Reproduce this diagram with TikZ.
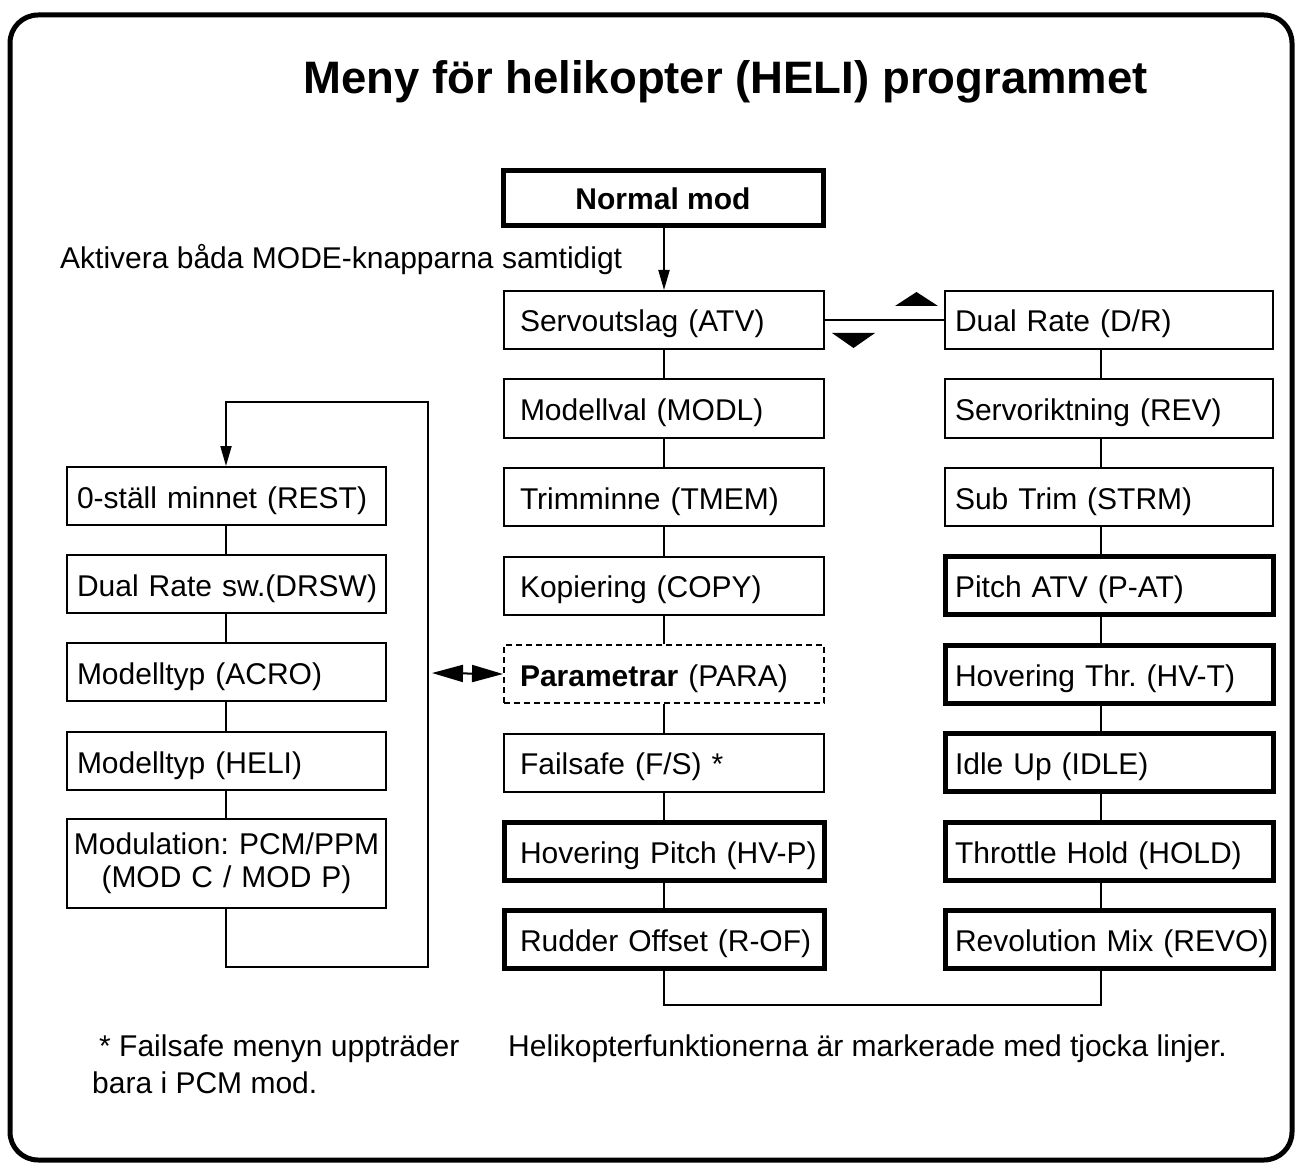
\documentclass[tikz,border=0pt]{standalone}
\usepackage{fontspec}
\setmainfont{Liberation Sans}
\usetikzlibrary{arrows.meta}
\frenchspacing
\begin{document}
\begin{tikzpicture}[x=1pt,y=-1pt,
  every node/.style={font=\fontsize{30}{34}\selectfont},
  box/.style={draw, line width=2pt, minimum height=58pt, align=left, text height=25pt, text depth=1pt, inner ysep=0pt},
  cbox/.style={box, text width=288pt, inner xsep=16pt},
  rbox/.style={box, text width=308pt, inner xsep=10pt},
  lbox/.style={box, text width=299pt, inner xsep=10pt},
  heavy/.style={line width=5pt},
  dotbox/.style={dash pattern=on 6pt off 4pt},
  link/.style={line width=2pt},
  arr/.style={-{Triangle[length=20pt,width=11pt]}},
  dbl/.style={{Triangle[length=31pt,width=17pt]}-{Triangle[length=31pt,width=17pt]}},
  plain/.style={anchor=base west, inner sep=0pt}]
\useasboundingbox (0,0) rectangle (1299,1166);
\draw[line width=5pt, rounded corners=28pt] (10,15) rectangle (1292,1160);

\node[anchor=base, inner sep=0pt, font=\fontsize{45.5}{50}\selectfont\bfseries] (title) at (725.5,94) {Meny för helikopter (HELI) programmet};

\node[draw, heavy, minimum width=320pt, minimum height=55pt, inner sep=0pt, text height=25pt, text depth=1pt, font=\fontsize{30}{34}\selectfont\bfseries] (normal) at (663,198) {Normal mod};
\node[plain] (akt) at (60,269) {Aktivera båda MODE-knapparna samtidigt};

% centre column
\node[cbox] (atv)  at (664,320)   {\mbox{Servoutslag (ATV)}};
\node[cbox] (modl) at (664,408.5) {\mbox{Modellval (MODL)}};
\node[cbox] (tmem) at (664,497)   {\mbox{Trimminne (TMEM)}};
\node[cbox] (copy) at (664,585.5) {\mbox{Kopiering (COPY)}};
\node[cbox, dotbox] (para) at (664,674) {\mbox{\textbf{Parametrar} (PARA)}};
\node[cbox] (fs)   at (664,762.5) {\mbox{Failsafe (F/S) *}};
\node[cbox, heavy] (hvp) at (664,851) {\mbox{Hovering Pitch (HV-P)}};
\node[cbox, heavy] (rof) at (664,939.5) {\mbox{Rudder Offset (R-OF)}};

% right column
\node[rbox] (dr)   at (1109,320)   {\mbox{Dual Rate (D/R)}};
\node[rbox] (rev)  at (1109,408.5) {\mbox{Servoriktning (REV)}};
\node[rbox] (strm) at (1109,497)   {\mbox{Sub Trim (STRM)}};
\node[rbox, heavy] (pat)  at (1109,585.5) {\mbox{Pitch ATV (P-AT)}};
\node[rbox, heavy] (hvt)  at (1109,674)   {\mbox{Hovering Thr. (HV-T)}};
\node[rbox, heavy] (idle) at (1109,762.5) {\mbox{Idle Up (IDLE)}};
\node[rbox, heavy] (hold) at (1109,851)   {\mbox{Throttle Hold (HOLD)}};
\node[rbox, heavy] (revo) at (1109,939.5) {\mbox{Revolution Mix (REVO)}};

% left column
\node[lbox] (rest) at (226.5,496) {\mbox{0-ställ minnet (REST)}};
\node[lbox] (drsw) at (226.5,584) {\mbox{Dual Rate sw.(DRSW)}};
\node[lbox] (acro) at (226.5,672) {\mbox{Modelltyp (ACRO)}};
\node[lbox] (heli) at (226.5,761) {\mbox{Modelltyp (HELI)}};
\node[draw, line width=2pt, minimum width=319pt, minimum height=89pt, text width=319pt, inner xsep=0pt, align=center, font=\fontsize{30}{33}\selectfont] (modu) at (226.5,863.5) {\mbox{Modulation: PCM/PPM}\\\mbox{(MOD C / MOD P)}};

% connector columns
\coordinate (cc) at (664,0);
\coordinate (rc) at (1101,0);
\coordinate (lc) at (226,0);
\coordinate (loopB) at (428,967);
\coordinate (loopT) at (428,402);
\coordinate (dl) at (432,673);

\draw[link, arr] (normal.south -| cc) -- (atv.north -| cc);
\foreach \a/\b in {atv/modl, modl/tmem, tmem/copy, copy/para, para/fs, fs/hvp, hvp/rof}
  \draw[link] (\a.south -| cc) -- (\b.north -| cc);
\foreach \a/\b in {dr/rev, rev/strm, strm/pat, pat/hvt, hvt/idle, idle/hold, hold/revo}
  \draw[link] (\a.south -| rc) -- (\b.north -| rc);
\foreach \a/\b in {rest/drsw, drsw/acro, acro/heli, heli/modu}
  \draw[link] (\a.south -| lc) -- (\b.north -| lc);

\draw[link] (atv.east) -- (dr.west);
\fill[shift={(dr.west)}] (-49,-14) -- (-6,-14) -- (-27.5,-28) -- cycle;
\fill[shift={(atv.east)}] (7,13) -- (50,13) -- (28.5,28) -- cycle;

\draw[link] (rof.south -| cc) -- ++(0,34) -| (revo.south -| rc);
\draw[link, arr] (modu.south -| lc) |- (loopB) -- (loopT) -| (rest.north -| lc);
\draw[link, dbl] (dl) -- (para.west);

\node[plain] (fn1) at (92,1056) {\hspace*{7pt}* Failsafe menyn uppträder};
\node[plain] (fn2) at (92,1093) {bara i PCM mod.};
\node[plain] (hn) at (508,1056) {Helikopterfunktionerna är markerade med tjocka linjer.};
\end{tikzpicture}
\end{document}
